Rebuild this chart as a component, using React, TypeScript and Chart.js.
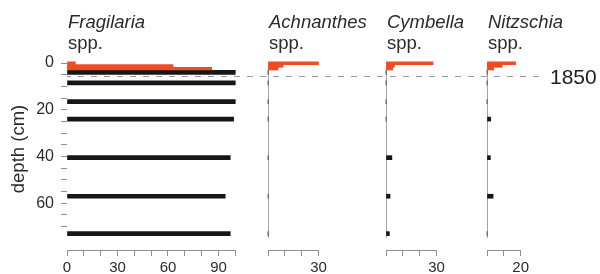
import React, { useEffect, useRef } from 'react';
import { Chart, registerables } from 'chart.js';

Chart.register(...registerables);

const FONT = '"Liberation Sans", Arial, Helvetica, sans-serif';

// ---- data ----
const recentDepths = [0.1, 1.25, 2.4]; // cm, short core (orange)
const coreDepths = [4, 8.5, 16.5, 24, 40.5, 57, 73]; // cm, long core (black)

const fragilariaRecent = [5, 63, 86];
const fragilariaCore = [100, 100, 100, 99, 97, 94, 97];
const achnanthesRecent = [30, 9, 6];
const achnanthesCore = [0, 0, 0, 0, 0, 0, 0];
const cymbellaRecent = [28, 5, 4];
const cymbellaCore = [0, 0, 0, 0, 3.5, 2.4, 2];
const nitzschiaRecent = [17, 9, 4];
const nitzschiaCore = [0, 0, 0, 2.2, 2, 3.6, 0];

const depthTicks = [0, 5, 10, 15, 20, 25, 30, 35, 40, 45, 50, 55, 60, 65, 70];
const depthTickLabels = [0, 20, 40, 60];
const depthMax = 80;
const profileEnd = 75;

const fragilariaTicks = [0, 10, 20, 30, 40, 50, 60, 70, 80, 90, 100];
const fragilariaTickLabels = [0, 30, 60, 90];
const achnanthesTicks = [0, 10, 20, 30];
const achnanthesTickLabels = [30];
const cymbellaTicks = [0, 10, 20, 30];
const cymbellaTickLabels = [30];
const nitzschiaTicks = [0, 10, 20];
const nitzschiaTickLabels = [20];

const horizonDepth = 5.4;
const horizonLabel = '1850';
const depthTitle = 'depth (cm)';

// ---- layout ----
const PX_PER_UNIT = 1.683;
const H = 274;
const TOP = 63;
const XAXIS_H = 24;
const ORANGE = '#ee4c22';
const BLACK = '#161616';
const TEXT = '#2a2a2a';
const AXIS = '#8e8e8e';

type PanelCfg = {
  name: string;
  recent: number[];
  core: number[];
  ticks: number[];
  labels: number[];
  max: number;
  left: number;
  width: number;
  padLeft: number;
  first?: boolean;
  baseline?: boolean;
  dashEnd?: number;
  horizonText?: boolean;
};

const panels: PanelCfg[] = [
  { name: 'Fragilaria', recent: fragilariaRecent, core: fragilariaCore, ticks: fragilariaTicks, labels: fragilariaTickLabels, max: 100, left: 0, width: 250, padLeft: 0, first: true },
  { name: 'Achnanthes', recent: achnanthesRecent, core: achnanthesCore, ticks: achnanthesTicks, labels: achnanthesTickLabels, max: 30, left: 250, width: 120, padLeft: 18, baseline: true },
  { name: 'Cymbella', recent: cymbellaRecent, core: cymbellaCore, ticks: cymbellaTicks, labels: cymbellaTickLabels, max: 30, left: 370, width: 100, padLeft: 16, baseline: true },
  { name: 'Nitzschia', recent: nitzschiaRecent, core: nitzschiaCore, ticks: nitzschiaTicks, labels: nitzschiaTickLabels, max: 20, left: 470, width: 130, padLeft: 17, baseline: true, dashEnd: 545, horizonText: true },
];

function makePlugin(cfg: PanelCfg) {
  return {
    id: 'panelDeco' + cfg.name,
    beforeDatasetsDraw(chart: any) {
      if (!cfg.baseline) return;
      const { ctx, scales } = chart;
      const px = Math.round(scales.x.getPixelForValue(0));
      const y0 = Math.round(scales.y.getPixelForValue(-0.5));
      const y1 = Math.round(scales.y.getPixelForValue(profileEnd));
      ctx.save();
      ctx.fillStyle = '#a4a4a4';
      ctx.fillRect(px, y0, 1, y1 - y0);
      ctx.restore();
    },
    afterDatasetsDraw(chart: any) {
      const { ctx, scales, chartArea } = chart;
      const hy = Math.round(scales.y.getPixelForValue(horizonDepth)) + 0.5;
      const x0 = cfg.first ? chartArea.left : 0;
      const x1 = cfg.dashEnd !== undefined ? cfg.dashEnd - cfg.left : chart.width;
      ctx.save();
      ctx.strokeStyle = '#9a9a9a';
      ctx.lineWidth = 1;
      ctx.setLineDash([6, 7]);
      ctx.lineDashOffset = cfg.left + x0;
      ctx.beginPath();
      ctx.moveTo(x0, hy);
      ctx.lineTo(x1, hy);
      ctx.stroke();
      ctx.setLineDash([]);
      if (cfg.horizonText) {
        ctx.fillStyle = '#1e1e1e';
        ctx.font = `21px ${FONT}`;
        ctx.textAlign = 'left';
        ctx.textBaseline = 'alphabetic';
        ctx.fillText(horizonLabel, x1 + 5, hy + 7);
      }
      ctx.restore();
    },
    afterDraw(chart: any) {
      const { ctx, chartArea } = chart;
      ctx.save();
      ctx.fillStyle = TEXT;
      ctx.textAlign = 'left';
      ctx.textBaseline = 'alphabetic';
      ctx.font = `italic 18.5px ${FONT}`;
      ctx.fillText(cfg.name, chartArea.left + 1, 27.5);
      ctx.font = `18.5px ${FONT}`;
      ctx.fillText('spp.', chartArea.left + 1, 48.5);
      if (cfg.first) {
        ctx.translate(19, 149);
        ctx.rotate(-Math.PI / 2);
        ctx.textAlign = 'center';
        ctx.textBaseline = 'middle';
        ctx.font = `18.5px ${FONT}`;
        ctx.fillText(depthTitle, 0, 0);
      }
      ctx.restore();
    },
  };
}

function Panel({ cfg }: { cfg: PanelCfg }) {
  const ref = useRef<HTMLCanvasElement>(null);
  useEffect(() => {
    const padRight = cfg.width - cfg.padLeft - (cfg.first ? 67 : 0) - cfg.max * PX_PER_UNIT;
    const chart = new Chart(ref.current as HTMLCanvasElement, {
      type: 'bar',
      data: {
        datasets: [
          {
            data: recentDepths.map((d, i) => ({ x: cfg.recent[i], y: d })),
            backgroundColor: ORANGE,
            borderWidth: 0,
            barThickness: 2.8,
            grouped: false,
            clip: false,
          } as any,
          {
            data: coreDepths.map((d, i) => ({ x: cfg.core[i], y: d })),
            backgroundColor: BLACK,
            borderWidth: 0,
            barThickness: 4,
            grouped: false,
            clip: false,
          } as any,
        ],
      },
      options: {
        animation: false,
        responsive: false,
        indexAxis: 'y',
        events: [],
        layout: { padding: { top: TOP, left: cfg.padLeft, right: padRight, bottom: 0 } },
        plugins: {
          legend: { display: false },
          tooltip: { enabled: false },
          title: { display: false },
        },
        scales: {
          x: {
            type: 'linear',
            position: 'bottom',
            min: 0,
            max: cfg.max,
            offset: false,
            afterFit: (s: any) => {
              s.height = XAXIS_H;
            },
            afterBuildTicks: (s: any) => {
              s.ticks = cfg.ticks.map((v) => ({ value: v }));
            },
            border: { display: true, color: AXIS, width: 1 },
            grid: { display: true, offset: false, drawOnChartArea: false, drawTicks: true, tickLength: 6, color: AXIS, lineWidth: 1 },
            ticks: {
              autoSkip: false,
              maxRotation: 0,
              padding: 3,
              color: TEXT,
              font: { size: 15, family: FONT },
              callback: (v: any) => (cfg.labels.includes(Number(v)) ? String(v) : ''),
            },
          },
          y: {
            type: 'linear',
            reverse: true,
            min: 0,
            max: depthMax,
            offset: false,
            display: !!cfg.first,
            ...(cfg.first
              ? {
                  afterFit: (s: any) => {
                    s.width = 67;
                  },
                }
              : {}),
            afterBuildTicks: (s: any) => {
              s.ticks = depthTicks.map((v) => ({ value: v }));
            },
            border: { display: false },
            grid: { display: true, offset: false, drawOnChartArea: false, drawTicks: true, tickLength: 6, color: AXIS, lineWidth: 1 },
            ticks: {
              autoSkip: false,
              padding: 7,
              color: TEXT,
              font: { size: 16, family: FONT },
              callback: (v: any) => (depthTickLabels.includes(Number(v)) ? String(v) : ''),
            },
          },
        },
      } as any,
      plugins: [makePlugin(cfg)],
    });
    return () => chart.destroy();
  }, [cfg]);
  return (
    <canvas
      ref={ref}
      width={cfg.width}
      height={H}
      style={{ position: 'absolute', left: cfg.left, top: 0, width: cfg.width, height: H }}
    />
  );
}

export default function App() {
  return (
    <div style={{ position: 'fixed', left: 0, top: 0, width: 600, height: H, background: '#fff', overflow: 'hidden' }}>
      {panels.map((p) => (
        <Panel key={p.name} cfg={p} />
      ))}
    </div>
  );
}
